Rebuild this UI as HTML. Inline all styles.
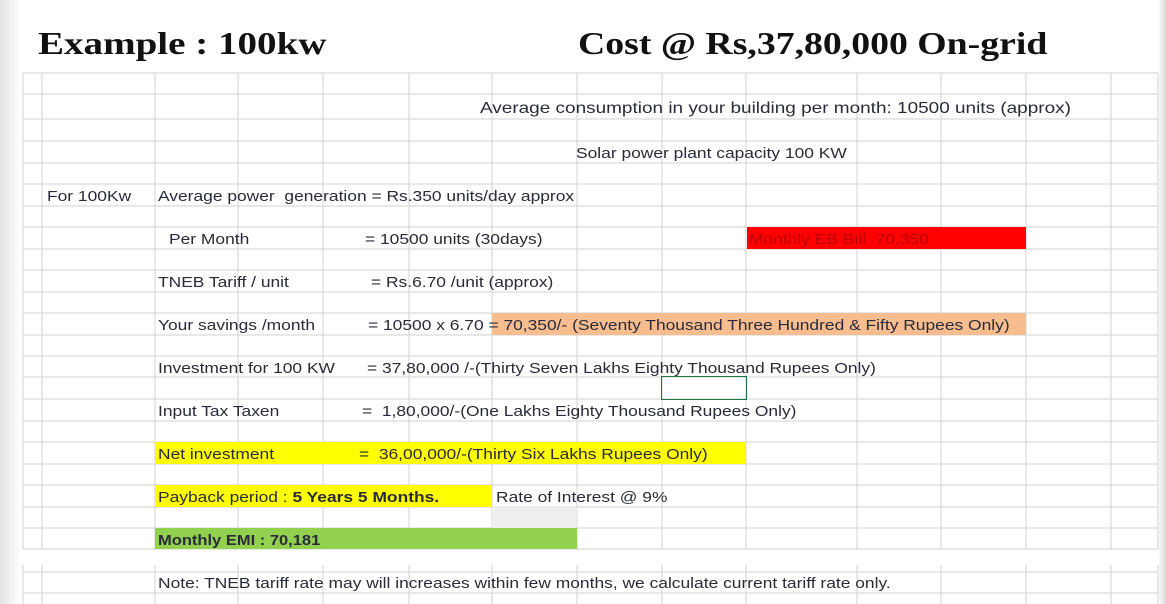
<!DOCTYPE html>
<html><head><meta charset="utf-8"><style>
body{margin:0;width:1166px;height:604px;overflow:hidden;background:#fff;font-family:"Liberation Sans",sans-serif;position:relative}
.t{position:absolute;font-size:15px;color:#2a2a3a;white-space:pre;line-height:22px;transform:scaleX(1.16);transform-origin:0 0;margin-top:2px}
.h{position:absolute;font-family:"Liberation Serif",serif;font-weight:bold;font-size:32px;color:#111;top:25px;transform:scaleX(1.22);transform-origin:0 0}
.f{position:absolute}
</style></head><body>
<div class="f" style="left:0;top:0;width:22px;height:604px;background:linear-gradient(90deg,#e4e4e4,#fff)"></div>
<div class="f" style="left:1158px;top:0;width:8px;height:604px;background:linear-gradient(90deg,#fff,#d8d8d8)"></div>
<div class="h" style="left:38px">Example : 100kw</div>
<div class="h" style="left:578px;transform:scaleX(1.18)">Cost @ Rs,37,80,000 On-grid</div>
<svg class="f" style="left:0;top:0" width="1166" height="604" id="g"></svg>
<div class="f" style="left:747px;top:227px;width:279px;height:22px;background:#f00"></div>
<div class="f" style="left:492px;top:313px;width:534px;height:22px;background:#f8bd8e"></div>
<div class="f" style="left:155px;top:442px;width:591px;height:22px;background:#ff0"></div>
<div class="f" style="left:155px;top:485px;width:337px;height:22px;background:#ff0"></div>
<div class="f" style="left:492px;top:507px;width:85px;height:21px;background:#eee"></div>
<div class="f" style="left:155px;top:528px;width:422px;height:21px;background:#92d050"></div>
<div class="f" style="left:661px;top:376px;width:84px;height:22px;border:1.5px solid #217346"></div>
<div class="t" style="left:480px;top:96px;font-size:16px;transform:scaleX(1.185)">Average consumption in your building per month: 10500 units (approx)</div>
<div class="t" style="left:576px;top:141px">Solar power plant capacity 100 KW</div>
<div class="t" style="left:47px;top:184px">For 100Kw</div>
<div class="t" style="left:158px;top:184px">Average power  generation = Rs.350 units/day approx</div>
<div class="t" style="left:169px;top:227px">Per Month</div>
<div class="t" style="left:365px;top:227px">= 10500 units (30days)</div>
<div class="t" style="left:749px;top:227px;color:#b00">Monthly EB Bill  70,350</div>
<div class="t" style="left:158px;top:270px">TNEB Tariff / unit</div>
<div class="t" style="left:371px;top:270px">= Rs.6.70 /unit (approx)</div>
<div class="t" style="left:158px;top:313px">Your savings /month</div>
<div class="t" style="left:368px;top:313px">= 10500 x 6.70 = 70,350/- (Seventy Thousand Three Hundred &amp; Fifty Rupees Only)</div>
<div class="t" style="left:158px;top:356px">Investment for 100 KW</div>
<div class="t" style="left:367px;top:356px">= 37,80,000 /-(Thirty Seven Lakhs Eighty Thousand Rupees Only)</div>
<div class="t" style="left:158px;top:399px">Input Tax Taxen</div>
<div class="t" style="left:362px;top:399px">=  1,80,000/-(One Lakhs Eighty Thousand Rupees Only)</div>
<div class="t" style="left:158px;top:442px">Net investment</div>
<div class="t" style="left:359px;top:442px">=  36,00,000/-(Thirty Six Lakhs Rupees Only)</div>
<div class="t" style="left:158px;top:485px">Payback period : <b>5 Years 5 Months.</b></div>
<div class="t" style="left:496px;top:485px">Rate of Interest @ 9%</div>
<div class="t" style="left:158px;top:528px;font-weight:bold;transform:scaleX(1.1)">Monthly EMI : 70,181</div>
<div class="t" style="left:158px;top:571px">Note: TNEB tariff rate may will increases within few months, we calculate current tariff rate only.</div>
<script>
const cols=[23,42,155,238,323,409,492,577,662,746,857,941,1026,1111,1158];
const rows=[73,94,119,141,163,184,206,227,249,270,292,313,335,356,377,399,421,442,464,485,507,528,549];
const g=document.getElementById('g');
const ns='http://www.w3.org/2000/svg';
function ln(x1,y1,x2,y2){const l=document.createElementNS(ns,'line');


l.setAttribute('x1',x1);l.setAttribute('y1',y1);l.setAttribute('x2',x2);l.setAttribute('y2',y2);
l.setAttribute('stroke','#d9d9d9');l.setAttribute('stroke-width','1.2');g.appendChild(l);}
rows.forEach(y=>ln(cols[0],y,1158,y));
cols.forEach(x=>ln(x,73,x,549));
ln(cols[0],572,1158,572);ln(cols[0],593,1158,593);
cols.forEach(x=>{ln(x,565,x,604);});
</script>
</body></html>
